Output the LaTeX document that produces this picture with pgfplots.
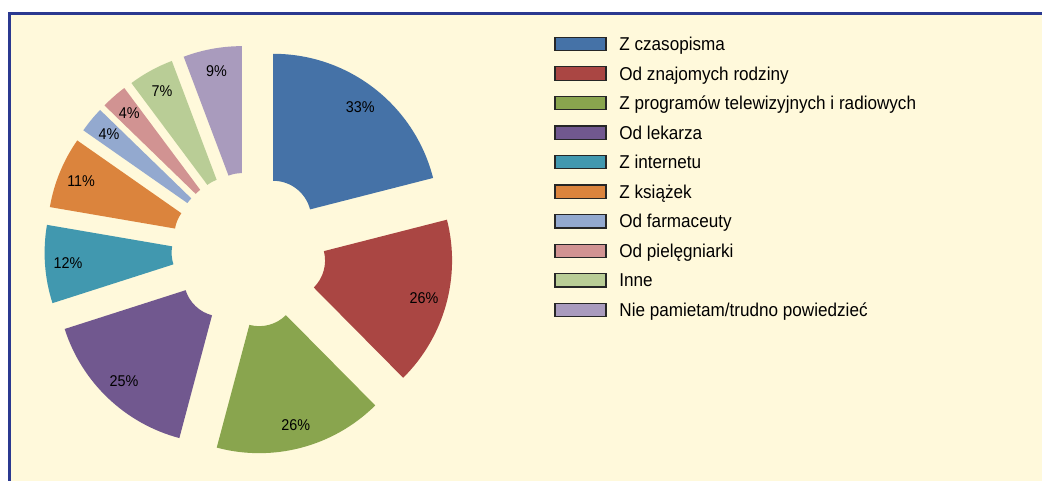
\documentclass[border=0pt]{standalone}
\usepackage{fontspec}
\setmainfont{Liberation Sans}[FakeStretch=0.92]
\usepackage{pgfplots}
\usepackage{pgfplotstable}
\pgfplotsset{compat=1.18}

\definecolor{c1}{HTML}{4572A7}
\definecolor{c2}{HTML}{AA4643}
\definecolor{c3}{HTML}{89A54E}
\definecolor{c4}{HTML}{71588F}
\definecolor{c5}{HTML}{4198AF}
\definecolor{c6}{HTML}{DB843D}
\definecolor{c7}{HTML}{93A9CF}
\definecolor{c8}{HTML}{D19392}
\definecolor{c9}{HTML}{B9CD96}
\definecolor{c10}{HTML}{A99BBD}
\definecolor{bg}{HTML}{FFF9DB}
\definecolor{framec}{HTML}{2B3990}

\pgfplotstableread[col sep=semicolon]{
name;value;col
Z czasopisma;33;c1
Od znajomych rodziny;26;c2
Z programów telewizyjnych i radiowych;26;c3
Od lekarza;25;c4
Z internetu;12;c5
Z książek;11;c6
Od farmaceuty;4;c7
Od pielęgniarki;4;c8
Inne;7;c9
Nie pamietam/trudno powiedzieć;9;c10
}\piedata

\begin{document}
\begin{tikzpicture}
\begin{axis}[x=0.5pt,y=0.5pt,xmin=0,xmax=1042,ymin=0,ymax=481,
  hide axis,clip=false,enlargelimits=false]
\addplot[draw=none,forget plot] coordinates {(0,0) (1042,481)};
\pgfplotsextra{
  \fill[white] (axis cs:0,0) rectangle (axis cs:1042,481);
  \fill[bg] (axis cs:11,0) rectangle (axis cs:1042,466);
  \fill[framec] (axis cs:8,0) rectangle (axis cs:11,469);
  \fill[framec] (axis cs:8,466) rectangle (axis cs:1042,469);
  \gdef\total{0}
  \foreach \i in {0,...,9}{%
    \pgfplotstablegetelem{\i}{value}\of\piedata
    \pgfmathparse{\total+\pgfplotsretval}\xdef\total{\pgfmathresult}%
  }
  \gdef\angA{90}
  \foreach \i in {0,...,9}{%
    \pgfplotstablegetelem{\i}{value}\of\piedata \let\myval\pgfplotsretval
    \pgfplotstablegetelem{\i}{col}\of\piedata \let\mycol\pgfplotsretval
    \pgfplotstablegetelem{\i}{name}\of\piedata \let\myname\pgfplotsretval
    \pgfmathsetmacro\angB{\angA-\myval/\total*360}
    \pgfmathsetmacro\midang{(\angA+\angB)/2}
    \pgfmathsetmacro\px{249+39.5*cos(\midang)}
    \pgfmathsetmacro\py{231+39.5*sin(\midang)}
    \pgfmathsetmacro\ax{\px+38*cos(\angA)}
    \pgfmathsetmacro\ay{\py+38*sin(\angA)}
    \pgfmathsetmacro\bx{\px+165*cos(\angA)}
    \pgfmathsetmacro\by{\py+165*sin(\angA)}
    \pgfmathsetmacro\cx{\px+38*cos(\angB)}
    \pgfmathsetmacro\cy{\py+38*sin(\angB)}
    \pgfmathsetmacro\lx{\px+142*cos(\midang)}
    \pgfmathsetmacro\ly{\py+142*sin(\midang)}
    \fill[fill=\mycol] (axis cs:\ax,\ay) -- (axis cs:\bx,\by)
      arc[start angle=\angA,end angle=\angB,radius=82.5pt]
      -- (axis cs:\cx,\cy)
      arc[start angle=\angB,end angle=\angA,radius=19pt] -- cycle;
    \node[font=\fontsize{7.8}{9}\selectfont,inner sep=0pt] at (axis cs:\lx,\ly) {\myval\%};
    \pgfmathsetmacro\sytop{481-37.3-29.55*\i}
    \pgfmathsetmacro\sybot{481-50.7-29.55*\i}
    \pgfmathsetmacro\tyb{481-50.5-29.55*\i}
    \draw[fill=\mycol,draw=black!85,line width=0.6pt] (axis cs:555,\sytop) rectangle (axis cs:606,\sybot);
    \node[anchor=base west,inner sep=0pt,font=\fontsize{9.3}{11}\selectfont] at (axis cs:619,\tyb) {\myname};
    \xdef\angA{\angB}%
  }
}
\end{axis}
\end{tikzpicture}
\end{document}
